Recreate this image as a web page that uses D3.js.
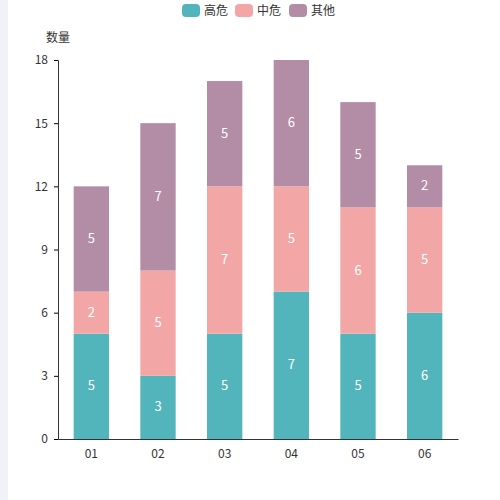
<!DOCTYPE html>
<html><head><meta charset="utf-8">
<script src="https://cdn.jsdelivr.net/npm/d3@7"></script>
<style>body{margin:0;background:#fff;}svg{display:block;}</style>
</head><body>
<svg id="c" width="500" height="500"></svg>
<script>
const categories = ["01","02","03","04","05","06"];
const seriesNames = ["高危","中危","其他"];
const high = [5,3,5,7,5,6];
const mid = [2,5,7,5,6,5];
const other = [5,7,5,6,5,2];
const yTicks = [0,3,6,9,12,15,18];
const colors = ["#52b5bb","#f3a6a6","#b38ca5"];

const svg = d3.select("#c");
svg.append("rect").attr("x",0).attr("y",0).attr("width",8).attr("height",500).attr("fill","#f1f2f7");
const font = "'Noto Sans CJK SC', 'Noto Sans', sans-serif";
const x = d3.scaleBand().domain(categories).range([58,458]).paddingInner(0.47).paddingOuter(0.235);
const y = d3.scaleLinear().domain([0,18]).range([439,60]);

const data = categories.map((c,i)=>({cat:c, v:[high[i],mid[i],other[i]]}));
const gy = svg.append("g").attr("transform","translate(58,0)")
  .call(d3.axisLeft(y).tickValues(yTicks).tickSize(4).tickPadding(6));
gy.select(".domain").attr("stroke","#333");
gy.selectAll("text").attr("font-family",font).attr("font-size",12).attr("fill","#333");
const gx = svg.append("g").attr("transform","translate(0,439)")
  .call(d3.axisBottom(x).tickSize(0).tickPadding(10));
gx.select(".domain").attr("stroke","#333");
gx.selectAll("text").attr("font-family",font).attr("font-size",12).attr("fill","#333");

svg.append("text").attr("x",46).attr("y",42).attr("font-family",font).attr("font-size",12).attr("fill","#333").text("数量");

data.forEach(d=>{
  let acc=0;
  d.v.forEach((v,k)=>{
    const y0=acc, y1=acc+v; acc=y1;
    svg.append("rect").attr("x",x(d.cat)).attr("width",x.bandwidth())
      .attr("y",y(y1)).attr("height",y(y0)-y(y1)).attr("fill",colors[k]);
    svg.append("text").attr("x",x(d.cat)+x.bandwidth()/2).attr("y",(y(y0)+y(y1))/2+4)
      .attr("text-anchor","middle").attr("font-family",font).attr("font-size",13).attr("fill","#fff").text(v);
  });
});

const lx=[182,235,289];
seriesNames.forEach((n,k)=>{
  svg.append("rect").attr("x",lx[k]).attr("y",4).attr("width",18).attr("height",13).attr("rx",4).attr("fill",colors[k]);
  svg.append("text").attr("x",lx[k]+22).attr("y",15).attr("font-family",font).attr("font-size",12).attr("fill","#333").text(n);
});
</script>
</body></html>
